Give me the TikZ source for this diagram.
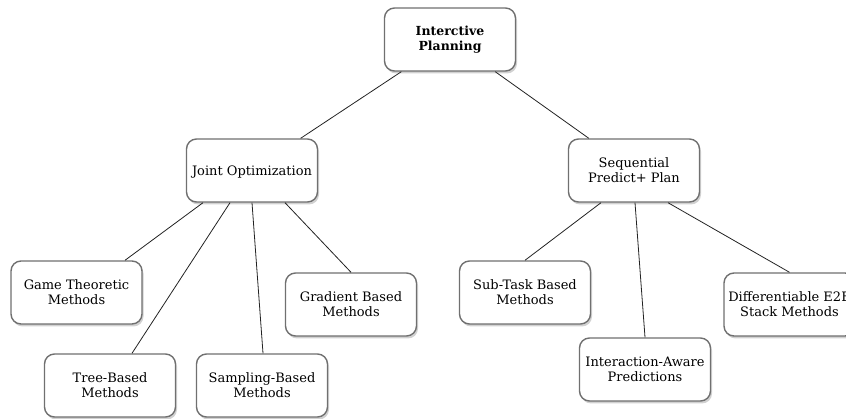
\documentclass[tikz,border=0pt]{standalone}
\usepackage{fontspec}
\setmainfont{DejaVu Serif}
\usetikzlibrary{shadows}
\definecolor{boxline}{HTML}{707070}
\definecolor{linkline}{HTML}{222222}
\tikzset{
  topic/.style={draw=boxline, line width=1.4pt, fill=white, rounded corners=10pt,
    minimum width=131pt, minimum height=63pt, align=center, inner sep=2pt,
    font=\fontsize{13}{15}\selectfont,
    drop shadow={shadow xshift=1.5pt, shadow yshift=-2.5pt, opacity=0.3, fill=black!60}},
  link/.style={draw=linkline, line width=0.8pt}
}
\begin{document}
\begin{tikzpicture}[x=1pt, y=-1pt]
\useasboundingbox (0,0) rectangle (846,419);
% root
\node[topic, font=\fontsize{12.5}{15}\selectfont\bfseries] (ip) at (450,39.5) {Interctive\\Planning};
% two strategies
\node[topic, text depth=0pt] (jo) at (252,170.5) {Joint Optimization};
\node[topic] (sp) at (634,170.5) {Sequential\\Predict+ Plan};
% joint optimization family
\node[topic] (gt) at (76.5,292.5) {Game Theoretic\\Methods};
\node[topic] (tb) at (110,385.5) {Tree-Based\\Methods};
\node[topic] (sb) at (262,385.5) {Sampling-Based\\Methods};
\node[topic] (gb) at (351,304.5) {Gradient Based\\Methods};
% sequential family
\node[topic] (st) at (525,292.5) {Sub-Task Based\\Methods};
\node[topic] (ia) at (645,369.5) {Interaction-Aware\\Predictions};
\node[topic] (de) at (789.5,304.5) {Differentiable E2E\\Stack Methods};
% connectors
\draw[link] (ip) -- (jo);
\draw[link] (ip) -- (sp);
\draw[link] ([xshift=-49pt]jo.south) -- ([xshift=48.5pt]gt.north);
\draw[link] ([xshift=-22pt]jo.south) -- ([xshift=22pt]tb.north);
\draw[link] (jo.south) -- ([xshift=1pt]sb.north);
\draw[link] ([xshift=33pt]jo.south) -- (gb.north);
\draw[link] ([xshift=-33pt]sp.south) -- (st.north);
\draw[link] ([xshift=1pt]sp.south) -- (ia.north);
\draw[link] ([xshift=34pt]sp.south) -- (de.north);
\end{tikzpicture}
\end{document}
